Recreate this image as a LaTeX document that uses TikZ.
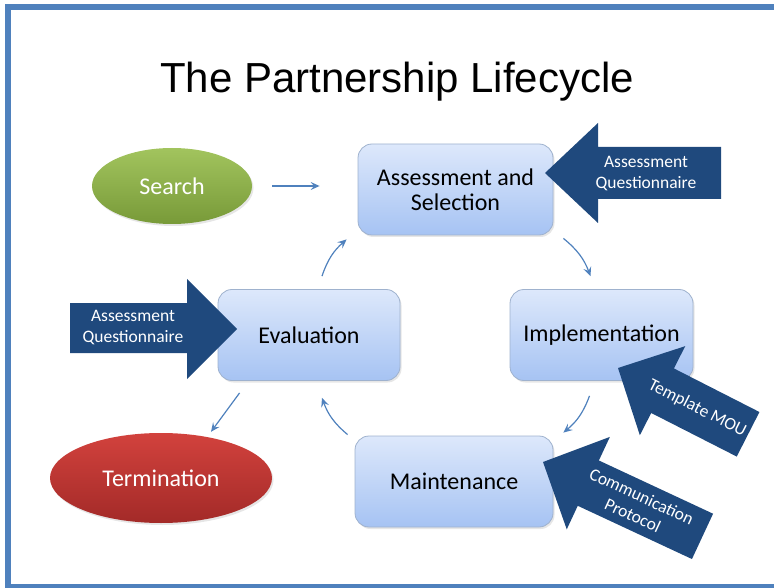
\documentclass[tikz,border=0pt]{standalone}
\usepackage{fontspec}
\setmainfont{Carlito}
\newfontfamily\titlefont{Liberation Sans}
\usepackage{tikz}
\usetikzlibrary{arrows,arrows.meta,calc,shapes.geometric,shadows}

\definecolor{frameblue}{HTML}{4F81BD}
\definecolor{navy}{HTML}{1F497D}
\definecolor{boxtop}{HTML}{DDE8FB}
\definecolor{boxbot}{HTML}{A6C3F3}
\definecolor{boxline}{HTML}{9FB2CE}
\definecolor{greentop}{HTML}{A2C45E}
\definecolor{greenbot}{HTML}{789A38}
\definecolor{redtop}{HTML}{D2423D}
\definecolor{redbot}{HTML}{A32A28}

\begin{document}
\begin{tikzpicture}[x=1pt,y=-1pt,
	stage/.style={rectangle,rounded corners=14pt,draw=boxline,line width=0.8pt,
		top color=boxtop,bottom color=boxbot,minimum width=#1,minimum height=91pt,
		align=center,font=\fontsize{24}{25}\selectfont,
		drop shadow={opacity=0.2,shadow xshift=1.5pt,shadow yshift=-2pt}},
	oval/.style={ellipse,text=white,font=\fontsize{24}{25}\selectfont,
		drop shadow={opacity=0.2,shadow xshift=1.5pt,shadow yshift=-2pt}},
	tag/.style={text=white,align=center,font=\fontsize{17.5}{21}\selectfont},
	flow/.style={draw=frameblue,line width=1.2pt,-{Stealth[length=9pt,width=8pt,inset=3.5pt]}}]

	\useasboundingbox (0,0) rectangle (774,588);
	\draw[frameblue,line width=6pt] (774,7) -- (8,7) -- (8,587) -- (774,587);

	\node[font=\titlefont\fontsize{42}{46}\selectfont] (title) at (397,82) {The Partnership Lifecycle};

	\node[oval,minimum width=160pt,minimum height=76pt,top color=greentop,bottom color=greenbot] (search) at (172,186) {Search};
	\node[oval,minimum width=222pt,minimum height=90pt,top color=redtop,bottom color=redbot] (term) at (161,478) {Termination};

	\node[stage=195pt] (assess) at (455.5,189.5) {Assessment and\\Selection};
	\node[stage=182pt] (eval) at (309,335) {Evaluation};
	\node[stage=183pt] (impl) at (601.5,335) {Implementation};
	\node[stage=198pt] (maint) at (454,481.5) {Maintenance};

	\draw[flow,shorten <=20pt,shorten >=38pt] (search.east) -- (search.east -| assess.west);
	\draw[flow] ([shift={(10,3)}]assess.south east) to[bend left=15] ([shift={(-11,-13)}]impl.north);
	\draw[flow] ([shift={(-12,15)}]impl.south) to[bend left=15] ([shift={(10,-3)}]maint.north east);
	\draw[flow] ([shift={(-7,-1)}]maint.north west) to[bend left=15] ([shift={(13,17)}]eval.south);
	\draw[flow] ([shift={(13,-13)}]eval.north) to[bend left=15] ([shift={(-11,4)}]assess.south west);
	\draw[flow] ([shift={(22,12)}]eval.south west) -- ([shift={(50,-1)}]term.north);

	\fill[navy] (545,173) -- (598,123) -- (598,147) -- (721,147) -- (721,199) -- (598,199) -- (598,223) -- cycle;
	\node[tag] (aqright) at (646,174) {Assessment\\Questionnaire};

	\fill[navy] (237,329) -- (187,279) -- (187,303) -- (70,303) -- (70,353) -- (187,353) -- (187,379) -- cycle;
	\node[tag] (aqleft) at (133,328) {Assessment\\Questionnaire};

	\begin{scope}[shift={(618,368)},rotate=-27]
		\fill[navy] (0,0) -- (50,-50) -- (50,-25) -- (146,-25) -- (146,25) -- (50,25) -- (50,50) -- cycle;
		\node[tag,rotate=-27] (mou) at (89,0) {Template MOU};
	\end{scope}

	\begin{scope}[shift={(543,462)},rotate=-25]
		\fill[navy] (0,0) -- (50,-51) -- (50,-25) -- (176,-25) -- (176,25) -- (50,25) -- (50,51) -- cycle;
		\node[tag,rotate=-25] (comm) at (104,0) {Communication\\Protocol};
	\end{scope}

\end{tikzpicture}
\end{document}
